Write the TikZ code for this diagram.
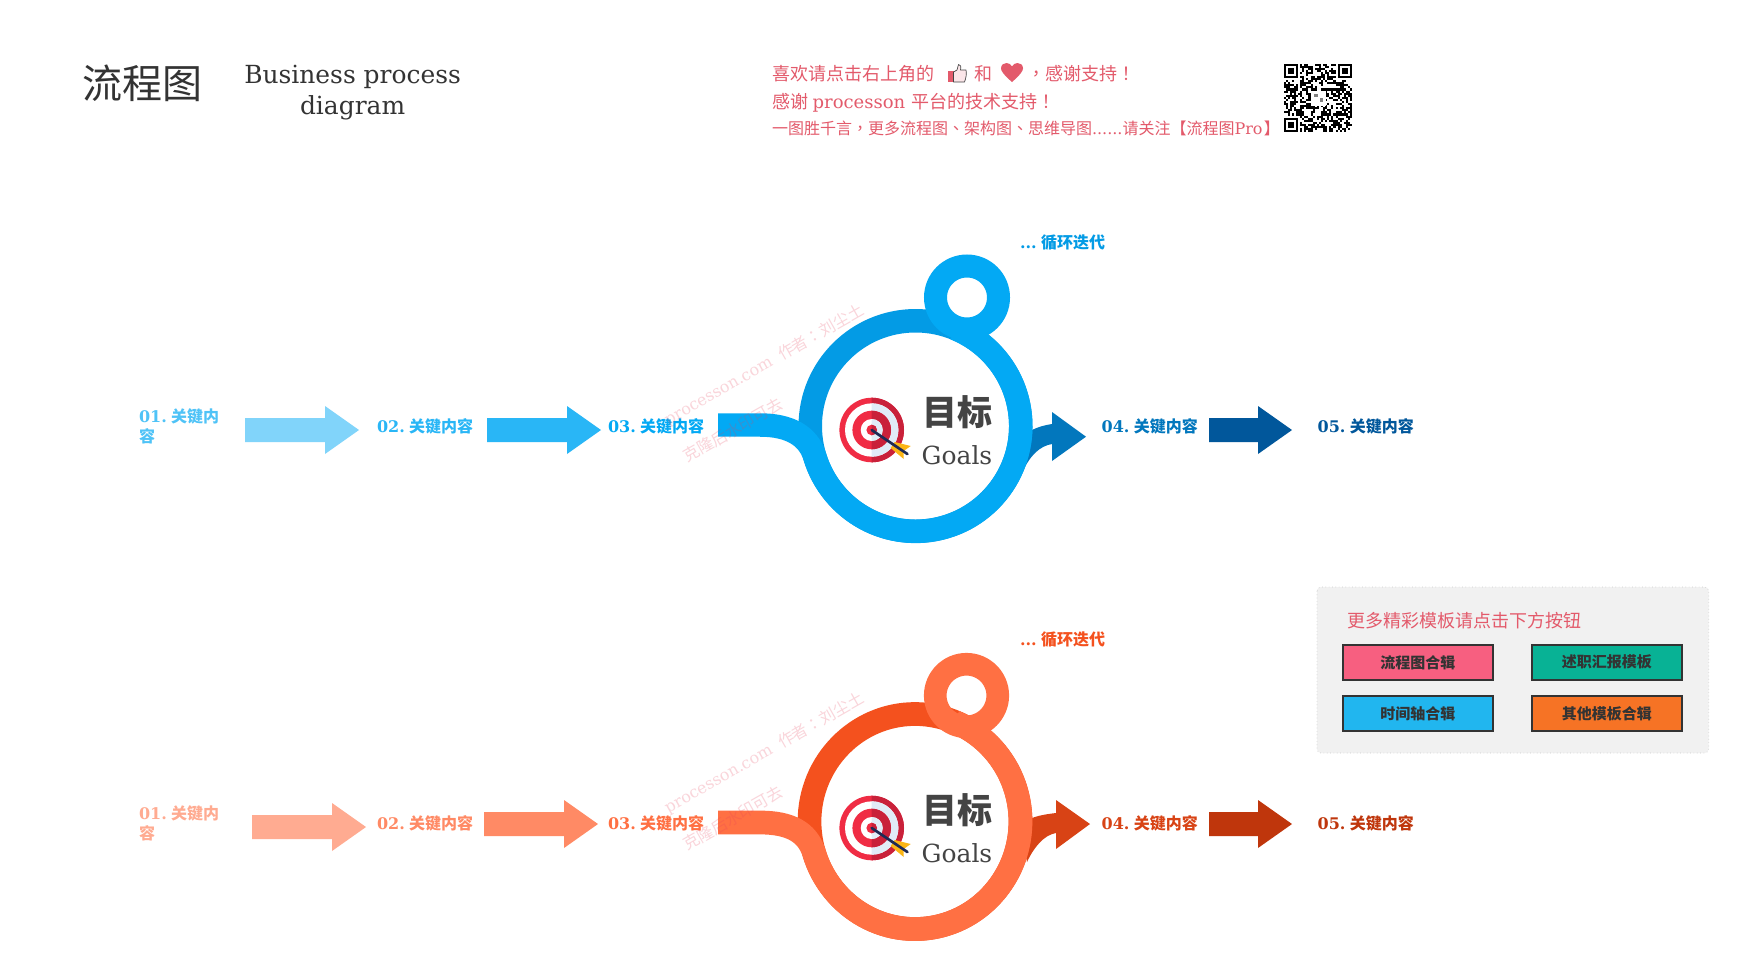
\documentclass[tikz,border=0pt]{standalone}
\usepackage{fontspec}
\setmainfont{DejaVu Serif}
\newfontfamily\cjk{Noto Sans CJK SC}
\newfontfamily\cjkt{Noto Sans CJK TC}
\definecolor{bA}{HTML}{81D4FA}\definecolor{bB}{HTML}{29B6F6}\definecolor{bC}{HTML}{03A9F4}
\definecolor{bD}{HTML}{039BE5}\definecolor{bE}{HTML}{0277BD}\definecolor{bF}{HTML}{01579B}\definecolor{bT}{HTML}{4FC3F7}
\definecolor{oA}{HTML}{FFAB91}\definecolor{oB}{HTML}{FF8A65}\definecolor{oC}{HTML}{FF7043}
\definecolor{oD}{HTML}{F4511E}\definecolor{oE}{HTML}{D84315}\definecolor{oF}{HTML}{BF360C}
\definecolor{hd}{HTML}{E35A6B}\definecolor{ink}{HTML}{333333}\definecolor{gr}{HTML}{444444}
\newcommand\fsz[1]{\fontsize{#1}{#1}\selectfont}
\newcommand\lab[1]{\bfseries #1.\hspace{3.3pt}{\cjk 关键内容}}
\newcommand\blockarrow[5]{\fill[#5] (#1,#4-12) -- (#2,#4-12) -- (#2,#4-24) -- (#3,#4) -- (#2,#4+24) -- (#2,#4+12) -- (#1,#4+12) -- cycle;}
\newcommand\targeticon[2]{%
  \foreach \r/\cl/\cr in {32.3/F02C44/C9213A,26.7/FFFFFF/E1ECF7,19.3/F02C44/C9213A,11/FFFFFF/E1ECF7,5.3/F02C44/C9213A}{%
    \definecolor{tl}{HTML}{\cl}\definecolor{tr}{HTML}{\cr}%
    \fill[tl] (#1,#2) circle[radius=\r];
    \fill[tr] (#1,#2-\r) arc[start angle=-90,end angle=90,radius=\r] -- cycle;
  }
  \fill[featherc] (#1+23,#2+12) -- (#1+39,#2+16) -- (#1+32,#2+21) -- (#1+32,#2+29) -- (#1+19,#2+18) -- cycle;
  \draw[navyc,line width=2pt,line cap=round] (#1,#2) -- (#1+35.7,#2+24);
}
\definecolor{featherc}{HTML}{FBB515}\definecolor{navyc}{HTML}{1E2A55}
\definecolor{E8405A}{HTML}{E8405A}
\tikzset{
  txt/.style={inner sep=0pt,outer sep=0pt,anchor=west},
  lbl/.style={txt,font=\fsz{12pt}},
  water/.style={inner sep=0pt,anchor=center,rotate=29.5,text=E8405A,text opacity=.22,font=\fsz{12pt}},
  btn/.style={draw=ink,line width=1.5pt,minimum width=112.5pt,minimum height=26.5pt,inner sep=0pt,text=ink,font=\fsz{11.25pt}\cjk\bfseries},
}
\begin{document}
\begin{tikzpicture}[x=.75pt,y=.75pt,yscale=-1]
\useasboundingbox (0,0) rectangle (1739,972);
\fill[white] (0,0) rectangle (1739,972);
% header
\node[txt,text=ink,font=\fsz{30pt}\cjk] (title) at (82.5,83) {流程图};
\node[inner sep=0pt,align=center,text=ink,font=\fontsize{18.7pt}{23.3pt}\selectfont] (sub) at (352.6,93) {Business process\\diagram};
\node[txt,text=hd,font=\fsz{13.5pt}\cjk] (h1a) at (772,74) {喜欢请点击右上角的};
\fill[hd] (948,71) rectangle (953.5,82);
\draw[gr,fill=hd!15,line width=.5pt,line join=round] (953.5,72) -- (957,70) -- (958.5,64.5) .. controls (961,64) and (961,67) .. (960.5,70) -- (966,70) .. controls (966.8,74) and (966,78) .. (964.5,82) -- (953.5,82) -- cycle;
\node[txt,text=hd,font=\fsz{13.5pt}\cjk] (h1b) at (974,74) {和};
\fill[hd] (1012,82) .. controls (1004,75) and (1001,71) .. (1001,68.5) .. controls (1001,64.5) and (1004,63) .. (1006.5,63) .. controls (1009,63) and (1011,64.5) .. (1012,66.5) .. controls (1013,64.5) and (1015,63) .. (1017.5,63) .. controls (1020,63) and (1023,64.5) .. (1023,68.5) .. controls (1023,71) and (1020,75) .. (1012,82) -- cycle;
\node[txt,text=hd,font=\fsz{13.5pt}\cjk] (h1c) at (1027,74) {{\cjkt ，}感谢支持{\cjkt ！}};
\node[txt,text=hd,font=\fsz{13.5pt}] (h2) at (772,102.5) {{\cjk 感谢}\hspace{3.5pt}processon\hspace{4.5pt}{\cjk 平台的技术支持}{\cjkt ！}};
\node[txt,text=hd,font=\fsz{12pt}] (h3) at (772,128.6) {{\cjk 一图胜千言}{\cjkt ，}{\cjk 更多流程图}{\cjkt 、}{\cjk 架构图}{\cjkt 、}{\cjk 思维导图}......{\cjk 请关注【流程图}Pro{\cjk\hspace{1pt}】}};
% QR
\begin{scope}[shift={(1283.5,63.5)}]
\pgfmathsetseed{4217}
\foreach \i in {0,...,32}{\foreach \j in {0,...,32}{%
  \pgfmathrandominteger{\rr}{0}{99}%
  \ifnum\rr<52 \fill[black] ({\i*2.08},{\j*2.08}) rectangle ++(2.08,2.08);\fi
}}
\foreach \a/\b in {0/0,26/0,0/26}{
  \fill[white] ({(\a-1)*2.08},{(\b-1)*2.08}) rectangle ++(18.72,18.72);
  \fill[black] ({\a*2.08},{\b*2.08}) rectangle ++(14.56,14.56);
  \fill[white] ({(\a+1)*2.08},{(\b+1)*2.08}) rectangle ++(10.4,10.4);
  \fill[black] ({(\a+2)*2.08},{(\b+2)*2.08}) rectangle ++(6.24,6.24);
}
\fill[white] (27,27) rectangle ++(15,15);
\fill[gray] (30,30) rectangle ++(4,3);\fill[gray] (36,34) rectangle ++(3,4);
\end{scope}
\fill[white] (1280,60) rectangle (1283.5,64);
% ===== top row
\node[lbl,text=bT,align=left,font=\fontsize{12pt}{15pt}\selectfont] (a1) at (139,426) {\bfseries 01.\hspace{3.3pt}{\cjk 关键内}\\{\cjk\bfseries 容}};
\blockarrow{245}{325}{359}{430}{bA}
\node[lbl,text=bB] (a2) at (377,426) {\lab{02}};
\blockarrow{487}{567}{601}{430}{bB}
\node[lbl,text=bC] (a3) at (608,426) {\lab{03}};
\node[lbl,text=bE] (a4) at (1101.7,426) {\lab{04}};
\blockarrow{1209}{1258}{1292}{430}{bF}
\node[lbl,text=bF] (a5) at (1317.7,426) {\lab{05}};
\node[lbl,text=bD] (aloop) at (1020,243) {\bfseries ...\hspace{3.3pt}{\cjk 循环迭代}};
\fill[bE] (1020,433) -- (1032,430) .. controls (1038,427) and (1045,425) .. (1052,424) -- (1052,412) -- (1086,436.7) -- (1052,461) -- (1052,444) .. controls (1040,446) and (1030,455) .. (1022,473) -- cycle;
\draw[bD,line width=17.6pt] (915.5,426) circle[radius=105.25];
\draw[bC,line width=17.6pt] (718,425) -- (760,425) .. controls (790,425) and (808,436) .. (814.6,456) arc[start angle=163.5,end angle=-68,radius=105.25];
\draw[bC,line width=17.25pt] (967,297.5) circle[radius=31.5];
\targeticon{871.7}{430}
\node[inner sep=0pt,text=gr,font=\fsz{26.25pt}\cjk\bfseries] (g1) at (957.6,412) {目标};
\node[inner sep=0pt,text=gr,font=\fsz{18.7pt}] (g1e) at (957,455) {Goals};
% ===== bottom row
\node[lbl,text=oA,align=left,font=\fontsize{12pt}{15pt}\selectfont] (b1) at (139,823) {\bfseries 01.\hspace{3.3pt}{\cjk 关键内}\\{\cjk\bfseries 容}};
\blockarrow{252}{332}{366}{827}{oA}
\node[lbl,text=oB] (b2) at (377,823) {\lab{02}};
\blockarrow{484}{564}{598}{824}{oB}
\node[lbl,text=oC] (b3) at (608,823) {\lab{03}};
\node[lbl,text=oE] (b4) at (1101.7,823) {\lab{04}};
\blockarrow{1209}{1258}{1292}{824}{oF}
\node[lbl,text=oF] (b5) at (1317.7,823) {\lab{05}};
\node[lbl,text=oD] (bloop) at (1020,640) {\bfseries ...\hspace{3.3pt}{\cjk 循环迭代}};
\fill[oE] (1020,821) -- (1032,818) .. controls (1040,815) and (1048,814) .. (1056,813) -- (1056,800) -- (1090,824) -- (1056,849) -- (1056,833) .. controls (1044,835) and (1034,847) .. (1027,862) -- cycle;
\draw[oD,line width=17.8pt] (915,821.5) ellipse[x radius=105.5,y radius=107.5];
\draw[oC,line width=17.8pt] (718,822.5) -- (760,822.5) .. controls (790,822.5) and (807,832) .. (813.8,852.1) arc[start angle=163.5,end angle=-68,x radius=105.5,y radius=107.5];
\draw[oC,line width=17pt] (966.5,695.5) circle[radius=31.25];
\targeticon{871.7}{828}
\node[inner sep=0pt,text=gr,font=\fsz{26.25pt}\cjk\bfseries] (g2) at (957.6,810.5) {目标};
\node[inner sep=0pt,text=gr,font=\fsz{18.7pt}] (g2e) at (957,853) {Goals};
% panel
\draw[draw=black!20,fill=black!5.5,dotted,line width=.5pt,rounded corners=3pt] (1317,587) rectangle (1708.7,753);
\node[txt,text=hd,font=\fsz{13.5pt}\cjk] (ptxt) at (1347.5,621) {更多精彩模板请点击下方按钮};
\definecolor{p1}{HTML}{F75F80}\definecolor{p2}{HTML}{08B295}\definecolor{p3}{HTML}{21B6EF}\definecolor{p4}{HTML}{F67325}
\node[btn,fill=p1] (k1) at (1417.8,662.3) {流程图合辑};
\node[btn,fill=p2] (k2) at (1606.8,662.3) {述职汇报模板};
\node[btn,fill=p3] (k3) at (1417.8,713.3) {时间轴合辑};
\node[btn,fill=p4] (k4) at (1606.8,713.3) {其他模板合辑};
% watermarks
\node[water] (w1) at (764.5,365) {processon.com\hspace{7pt}{\cjk 作者}{\cjkt ：}{\cjk 刘尘土}};
\node[water] (w2) at (733,430) {\cjk 克隆后水印可去};
\node[water] (w3) at (764.5,753) {processon.com\hspace{7pt}{\cjk 作者}{\cjkt ：}{\cjk 刘尘土}};
\node[water] (w4) at (733,818) {\cjk 克隆后水印可去};
\end{tikzpicture}
\end{document}
